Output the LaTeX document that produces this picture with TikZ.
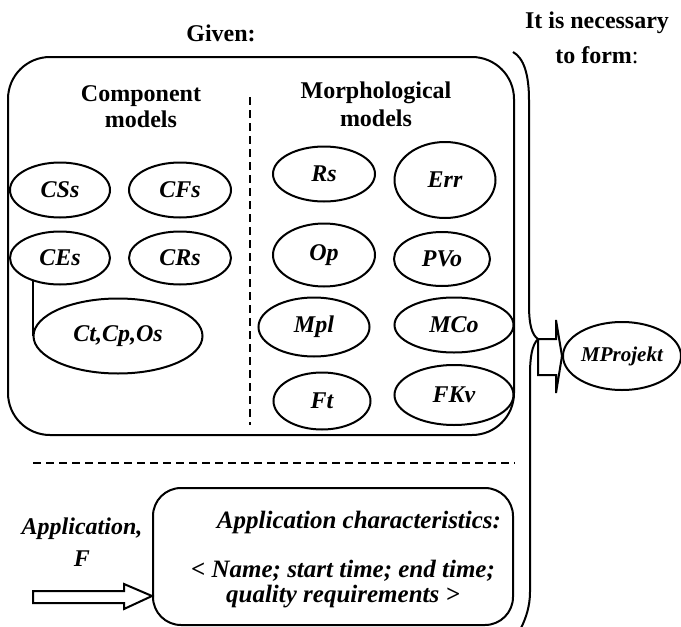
\documentclass[tikz,border=0pt]{standalone}
\usepackage{fontspec}
\setmainfont{Liberation Serif}
\usetikzlibrary{shapes.geometric, positioning, calc}
\tikzset{
    modelnode/.style={
        ellipse, draw, line width=1pt, inner sep=0pt, font=\fontsize{12}{13}\selectfont\bfseries\itshape
    },
    headtext/.style={
        align=center, inner sep=0pt, font=\fontsize{12}{13}\selectfont\bfseries
    },
    dashline/.style={
        draw, line width=1pt, dash pattern=on 4pt off 2.5pt
    }
}

\begin{document}
\begin{tikzpicture}[
        x=0.5pt, y=-0.5pt, line width=1pt,
        % --- STYLE ---
        bigbox/.style={draw, rounded corners=21pt, inner sep=0pt},
        charbox/.style={draw, rounded corners=14pt, inner sep=0pt},
        itext/.style={align=center, inner sep=0pt, font=\fontsize{12.5}{12.5}\selectfont\bfseries\itshape},
        blockarrow/.style={draw, line width=1pt, fill=white, line join=miter}
    ]
    \useasboundingbox (0,0) rectangle (681,627);

        % ==========================================
        % HEADERS
        % ==========================================
        \node[headtext] (given) at (221,33) {Given:};
        \node[headtext, font=\fontsize{12}{17.5}\selectfont\bfseries] (need) at (597,38) {It is necessary\\to form{\mdseries:}};

        % ==========================================
        % GIVEN: MODELS
        % ==========================================
        \node[bigbox, minimum width=253pt, minimum height=189pt] (gbox) at (261,246) {};
        \node[headtext] (comp) at (141,107) {Component\\models};
        \node[headtext, font=\fontsize{12}{14}\selectfont\bfseries] (morph) at (376,104) {Morphological\\models};
        \draw[dashline] (250,97) -- (250,425);

        % component models
        \node[modelnode, minimum width=50pt, minimum height=27.5pt] (CSs) at (60,190) {CSs};
        \node[modelnode, minimum width=51pt, minimum height=27.5pt] (CFs) at (180,190) {CFs};
        \node[modelnode, minimum width=50pt, minimum height=26.5pt] (CEs) at (60,258) {CEs};
        \node[modelnode, minimum width=51pt, minimum height=26.5pt] (CRs) at (180,258) {CRs};
        \node[modelnode, minimum width=84.5pt, minimum height=37.5pt] (CtCpOs) at (118,336) {Ct,Cp,Os};
        \draw (CEs.-139) -- (CEs.-139 |- CtCpOs.west);

        % morphological models
        \node[modelnode, minimum width=51pt, minimum height=27.5pt] (Rs) at (324,174) {Rs};
        \node[modelnode, minimum width=50.5pt, minimum height=38pt] (Err) at (445,180) {Err};
        \node[modelnode, minimum width=51pt, minimum height=31.5pt] (Op) at (324,255) {Op};
        \node[modelnode, minimum width=48pt, minimum height=27pt] (PVo) at (442,259) {PVo};
        \node[modelnode, minimum width=55.5pt, minimum height=29.5pt] (Mpl) at (314,327) {Mpl};
        \node[modelnode, minimum width=59.5pt, minimum height=27.5pt] (MCo) at (454,325) {MCo};
        \node[modelnode, minimum width=48.5pt, minimum height=28.5pt] (Ft) at (322,401) {Ft};
        \node[modelnode, minimum width=59.5pt, minimum height=30pt] (FKv) at (454,395) {FKv};

        % ==========================================
        % APPLICATION
        % ==========================================
        \draw[dashline] (33,463) -- (515,463);
        \node[charbox, minimum width=180pt, minimum height=68.5pt] (chbox) at (333,556.5) {};
        \node[itext] (chtext) at (343,560) {\hspace*{16pt}Application characteristics:\\[12pt] \textless{} Name; start time; end time;\\ quality requirements \textgreater};
        \node[itext, font=\fontsize{12}{16}\selectfont\bfseries\itshape] (app) at (82,542) {Application,\\F};
        \coordinate (appin) at (33,597);
        \draw[blockarrow] (appin |- 0,591) -- (124,591) -- (124,584) -- (chbox.west |- 0,596)
            -- (124,609) -- (124,603) -- (appin |- 0,603) -- cycle;

        % ==========================================
        % IT IS NECESSARY TO FORM
        % ==========================================
        \node[modelnode, minimum width=59pt, minimum height=34pt, font=\fontsize{10.5}{12}\selectfont\bfseries\itshape] (MProjekt) at (622,356) {MProjekt};
        \coordinate (tip) at (538,339);
        \draw (513,52) .. controls (524,58) and (529,75) .. (529,100) -- (529,305)
            .. controls (529,325) and (532,335) .. (tip)
            .. controls (532,345) and (530,357) .. (530,375) -- (530,592)
            .. controls (530,606) and (526,618) .. (521,628);
        \draw[blockarrow] (tip) -- (556,339) -- (556,320) -- (MProjekt.west)
            -- (556,393) -- (556,375) -- (538,375) -- cycle;

    \end{tikzpicture}
\end{document}
